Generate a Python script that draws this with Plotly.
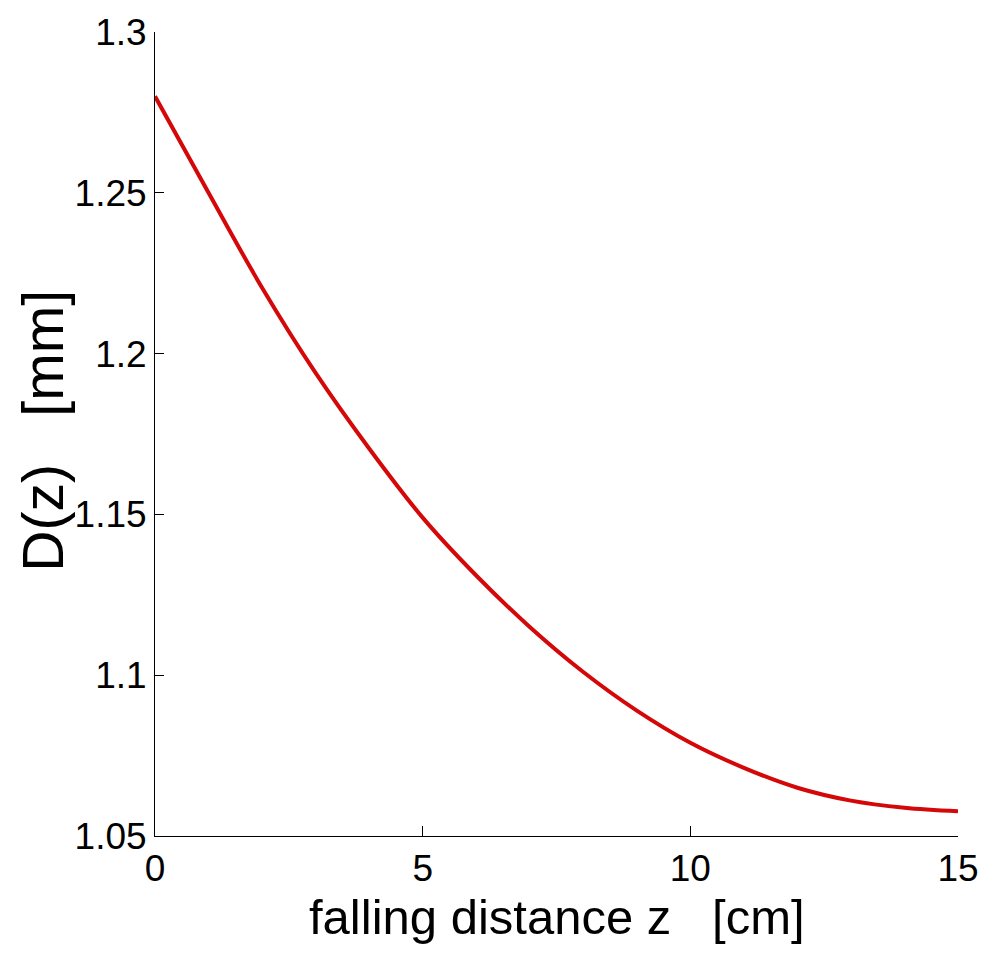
import plotly.graph_objects as go

# falling distance z [cm] and drop diameter D(z) [mm]
z_cm = [0, 1, 2, 3, 4, 5, 6, 7, 8, 9, 10, 11, 12, 13, 14, 15]
d_mm = [1.2800, 1.2500, 1.2205, 1.1940, 1.1705, 1.1490, 1.1310, 1.1150, 1.1010,
        1.0890, 1.0790, 1.0712, 1.0650, 1.0610, 1.0588, 1.0577]

x_ticks = [0, 5, 10, 15]
x_ticklabels = ["0", "5", "10", "15"]
y_ticks = [1.05, 1.1, 1.15, 1.2, 1.25, 1.3]
y_ticklabels = ["1.05", "1.1", "1.15", "1.2", "1.25", "1.3"]
x_title = "falling distance z   [cm]"
y_title = "D(z)   [mm]"

FONT = "Liberation Sans, Arial, sans-serif"

fig = go.Figure()
fig.add_trace(go.Scatter(
    x=z_cm, y=d_mm, mode="lines",
    line=dict(color="#d40808", width=4, shape="spline", smoothing=1.0),
    showlegend=False, hoverinfo="skip",
))

fig.update_layout(
    width=992, height=963,
    margin=dict(l=155, r=34, t=26, b=127),
    paper_bgcolor="white", plot_bgcolor="white",
    font=dict(family=FONT, color="black", size=37),
    xaxis=dict(
        range=[0, 15], tickvals=x_ticks, ticktext=x_ticklabels,
        showline=True, linecolor="black", linewidth=1, mirror=False,
        ticks="inside", ticklen=10, tickcolor="black", tickwidth=1,
        showgrid=False, zeroline=False,
        tickfont=dict(size=37, family=FONT),
    ),
    yaxis=dict(
        range=[1.05, 1.3], tickvals=y_ticks, ticktext=y_ticklabels,
        showline=True, linecolor="black", linewidth=1, mirror=False,
        ticks="inside", ticklen=9, tickcolor="black", tickwidth=1,
        showgrid=False, zeroline=False,
        tickfont=dict(size=37, family=FONT),
    ),
    annotations=[
        dict(text=x_title, xref="paper", yref="paper", x=0.5, y=-0.101,
             xanchor="center", yanchor="middle", showarrow=False,
             font=dict(size=49, family=FONT, color="black")),
        dict(text=y_title, xref="paper", yref="paper", x=-0.1395, y=0.504,
             xanchor="center", yanchor="middle", showarrow=False, textangle=-90,
             font=dict(size=57, family=FONT, color="black")),
    ],
)

fig.write_html("out.html")
